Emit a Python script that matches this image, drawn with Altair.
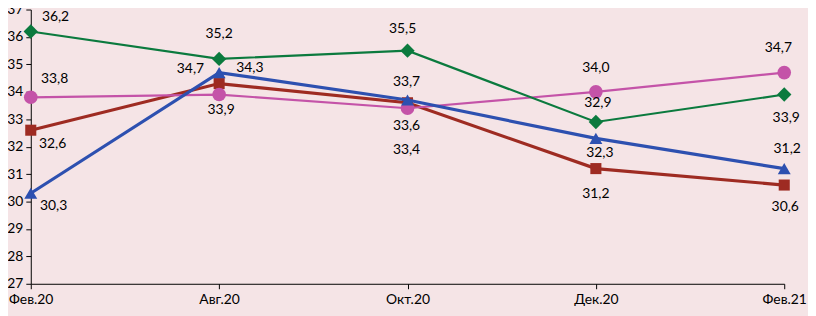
import altair as alt
import pandas as pd

categories = ["Фев.20", "Авг.20", "Окт.20", "Дек.20", "Фев.21"]
series_names = ["Ряд 1", "Ряд 2", "Ряд 3", "Ряд 4"]
green_vals = [36.2, 35.2, 35.5, 32.9, 33.9]
blue_vals = [30.3, 34.7, 33.7, 32.3, 31.2]
red_vals = [32.6, 34.3, 33.6, 31.2, 30.6]
magenta_vals = [33.8, 33.9, 33.4, 34.0, 34.7]

# label placement (pixel offsets of each data label from its point)
LABEL_DX = {
    "Ряд 1": [25, 0, -5, 2, 2],
    "Ряд 2": [23, -29, -1, 4, 3],
    "Ряд 3": [22, 31, -1, 0, 1],
    "Ряд 4": [24, 2, -1, 0, -6],
}
LABEL_DY = {
    "Ряд 1": [-15, -25, -22, -19, 24],
    "Ряд 2": [13, -4, -18, 15, -20],
    "Ряд 3": [14, -16, 24, 26, 22],
    "Ряд 4": [-18, 16, 42, -24, -25],
}

values = {
    "Ряд 1": green_vals,
    "Ряд 2": blue_vals,
    "Ряд 3": red_vals,
    "Ряд 4": magenta_vals,
}
styles = {
    "Ряд 1": dict(color="#0B7A3E", shape="diamond", size=210, width=2.2, order=4),
    "Ряд 2": dict(color="#2D50B0", shape="triangle-up", size=170, width=3.2, order=3),
    "Ряд 3": dict(color="#9E2B22", shape="square", size=125, width=3.2, order=1),
    "Ряд 4": dict(color="#C453A8", shape="circle", size=190, width=2.2, order=2),
}

rows = []
for s in series_names:
    for i, c in enumerate(categories):
        v = values[s][i]
        rows.append({
            "series": s, "cat": c, "idx": i, "value": v,
            "label": f"{v:.1f}".replace(".", ","),
        })
df = pd.DataFrame(rows)

x_enc = alt.X("cat:N", sort=categories, title=None,
              scale=alt.Scale(type="point", padding=0),
              axis=alt.Axis(labelAngle=0, domainColor="#000000", tickColor="#000000",
                            tickSize=5, labelPadding=4, labelFontSize=14,
                            labelFont="Lato", labelColor="#000000", grid=False))
y_enc = alt.Y("value:Q", title=None,
              scale=alt.Scale(domain=[27, 37], nice=False, zero=False),
              axis=alt.Axis(values=list(range(27, 38)), domainColor="#000000",
                            tickColor="#000000", tickSize=5, labelPadding=3,
                            labelFontSize=14, labelFont="Lato", labelColor="#000000",
                            grid=False))

layers = []
order_sorted = sorted(series_names, key=lambda s: styles[s]["order"])
for s in order_sorted:
    st = styles[s]
    base = alt.Chart(df).transform_filter(alt.datum.series == s)
    line = base.mark_line(color=st["color"], strokeWidth=st["width"]).encode(x=x_enc, y=y_enc)
    pts = base.mark_point(shape=st["shape"], size=st["size"], filled=True,
                          color=st["color"], opacity=1).encode(x=x_enc, y=y_enc)
    layers += [line, pts]

for s in series_names:
    for i in range(len(categories)):
        t = alt.Chart(df).transform_filter(
            (alt.datum.series == s) & (alt.datum.idx == i)
        ).mark_text(font="Lato", fontSize=14, color="#000000", baseline="middle",
                    align="center", dx=LABEL_DX[s][i], dy=LABEL_DY[s][i]).encode(
            x=x_enc, y=y_enc, text="label:N")
        layers.append(t)

chart = alt.layer(*layers).properties(
    width=761, height=277,
    background="#F5E4E6",
    padding={"left": 23, "top": 0, "right": 24, "bottom": 31},
    autosize=alt.AutoSizeParams(type="none"),
).configure_view(stroke=None)

chart.save("out.html", embed_options={"renderer": "svg", "actions": False})
